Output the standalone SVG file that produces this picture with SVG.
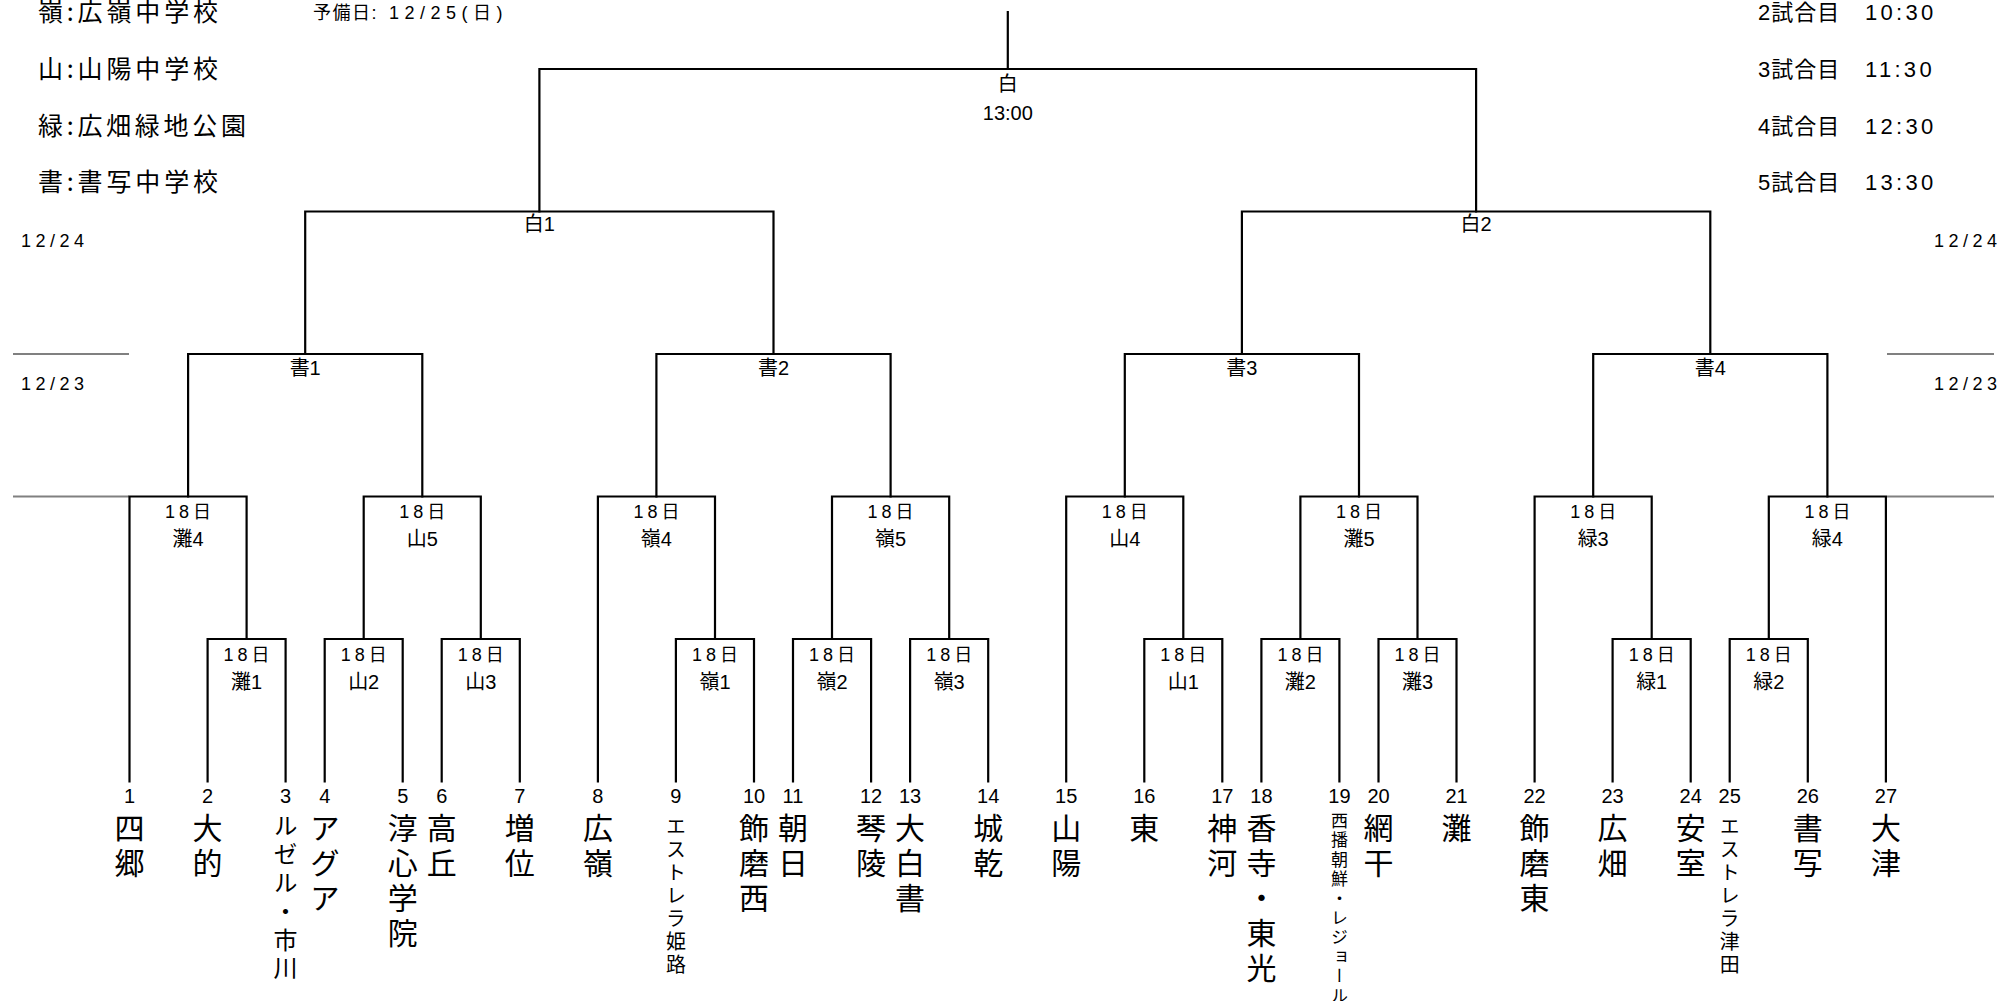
<svg xmlns="http://www.w3.org/2000/svg" width="2011" height="1001" viewBox="0 0 2011 1001">
<style>
.ln{stroke:#000;stroke-width:2.2;fill:none;stroke-linecap:square}
.gr{stroke:#808080;stroke-width:2.2;fill:none}
text{fill:#000}
.lg{font-family:"Noto Sans CJK JP",sans-serif;font-size:25px}
.sm{font-family:"Liberation Sans","Noto Sans CJK JP",sans-serif;font-size:18px}
.sc{font-family:"Liberation Sans","Noto Sans CJK JP",sans-serif;font-size:22px}
.ml{font-family:"Liberation Sans","Noto Sans CJK JP",sans-serif;font-size:20px;text-anchor:middle}
.dt{font-family:"Liberation Sans","Noto Sans CJK JP",sans-serif;font-size:18px;text-anchor:middle}
.num{font-family:"Liberation Sans",sans-serif;font-size:20px;text-anchor:middle}
.nm{font-family:"Noto Sans CJK JP",sans-serif;font-size:30px;writing-mode:vertical-rl;letter-spacing:5px}
.nm3{font-size:24px;letter-spacing:4.6px}
.nmS{font-size:20px;letter-spacing:3px}
.nmXS{font-size:17px;letter-spacing:2.4px}
</style>

<g id="legend">
<text class="lg" x="38" y="21" textLength="180" lengthAdjust="spacing">嶺:広嶺中学校</text>
<text class="lg" x="38" y="78" textLength="180" lengthAdjust="spacing">山:山陽中学校</text>
<text class="lg" x="38" y="135" textLength="208" lengthAdjust="spacing">緑:広畑緑地公園</text>
<text class="lg" x="38" y="191" textLength="180" lengthAdjust="spacing">書:書写中学校</text>
<text class="sm" font-size="19"><tspan x="313" y="19" letter-spacing="1.5">予備日:</tspan><tspan x="389" y="19" letter-spacing="5.5">12/25(日)</tspan></text>
<text class="sm" x="21" y="247" textLength="63" lengthAdjust="spacing">12/24</text>
<text class="sm" x="21" y="390" textLength="63" lengthAdjust="spacing">12/23</text>
<text class="sm" x="1934" y="247" textLength="63" lengthAdjust="spacing">12/24</text>
<text class="sm" x="1934" y="390" textLength="63" lengthAdjust="spacing">12/23</text>
</g>

<g id="schedule">
<text class="sc"><tspan x="1758" y="20" letter-spacing="1">2試合目</tspan><tspan x="1865" y="20" letter-spacing="3.3">10:30</tspan></text>
<text class="sc"><tspan x="1758" y="77" letter-spacing="1">3試合目</tspan><tspan x="1865" y="77" letter-spacing="3.3">11:30</tspan></text>
<text class="sc"><tspan x="1758" y="134" letter-spacing="1">4試合目</tspan><tspan x="1865" y="134" letter-spacing="3.3">12:30</tspan></text>
<text class="sc"><tspan x="1758" y="190" letter-spacing="1">5試合目</tspan><tspan x="1865" y="190" letter-spacing="3.3">13:30</tspan></text>
</g>

<g id="guides">
<line class="gr" x1="13" y1="354" x2="129" y2="354"/>
<line class="gr" x1="13" y1="496.5" x2="129" y2="496.5"/>
<line class="gr" x1="1887" y1="354" x2="1994" y2="354"/>
<line class="gr" x1="1887" y1="496.5" x2="1994" y2="496.5"/>
</g>

<g id="connectors">
<path class="ln" d="M1007.8 12 V69 M539.4 211.5 V69 H1476.1 V211.5"/>
<path class="ln" d="M305.2 354 V211.5 H773.5 V354"/>
<path class="ln" d="M1241.9 354 V211.5 H1710.3 V354"/>
<path class="ln" d="M188.1 496.5 V354 H422.3 V496.5"/>
<path class="ln" d="M656.4 496.5 V354 H890.6 V496.5"/>
<path class="ln" d="M1124.8 496.5 V354 H1359 V496.5"/>
<path class="ln" d="M1593.2 496.5 V354 H1827.4 V496.5"/>
<path class="ln" d="M129.5 781.5 V496.5 H246.6 V639"/>
<path class="ln" d="M363.7 639 V496.5 H480.8 V639"/>
<path class="ln" d="M597.9 781.5 V496.5 H715 V639"/>
<path class="ln" d="M832 639 V496.5 H949.2 V639"/>
<path class="ln" d="M1066.2 781.5 V496.5 H1183.3 V639"/>
<path class="ln" d="M1300.4 639 V496.5 H1417.5 V639"/>
<path class="ln" d="M1534.6 781.5 V496.5 H1651.7 V639"/>
<path class="ln" d="M1768.8 639 V496.5 H1885.9 V781.5"/>
<path class="ln" d="M207.6 781.5 V639 H285.6 V781.5"/>
<path class="ln" d="M324.7 781.5 V639 H402.7 V781.5"/>
<path class="ln" d="M441.7 781.5 V639 H519.8 V781.5"/>
<path class="ln" d="M675.9 781.5 V639 H754 V781.5"/>
<path class="ln" d="M793 781.5 V639 H871.1 V781.5"/>
<path class="ln" d="M910.1 781.5 V639 H988.2 V781.5"/>
<path class="ln" d="M1144.3 781.5 V639 H1222.3 V781.5"/>
<path class="ln" d="M1261.4 781.5 V639 H1339.4 V781.5"/>
<path class="ln" d="M1378.5 781.5 V639 H1456.5 V781.5"/>
<path class="ln" d="M1612.6 781.5 V639 H1690.7 V781.5"/>
<path class="ln" d="M1729.7 781.5 V639 H1807.8 V781.5"/>
</g>

<g id="matches">
<g id="m-final"><text class="ml" x="1007.8" y="91" font-size="19">白</text><text class="ml" x="1007.8" y="120" font-size="21">13:00</text></g>
<g id="m-haku1"><text class="ml" x="539.4" y="231">白1</text></g>
<g id="m-haku2"><text class="ml" x="1476.1" y="231">白2</text></g>
<g id="m-sho1"><text class="ml" x="305.2" y="375">書1</text></g>
<g id="m-sho2"><text class="ml" x="773.5" y="375">書2</text></g>
<g id="m-sho3"><text class="ml" x="1241.9" y="375">書3</text></g>
<g id="m-sho4"><text class="ml" x="1710.3" y="375">書4</text></g>
<g id="m-nada4"><text class="dt" x="188.1" y="518" textLength="46" lengthAdjust="spacing">18日</text><text class="ml" x="188.1" y="546">灘4</text></g>
<g id="m-yama5"><text class="dt" x="422.3" y="518" textLength="46" lengthAdjust="spacing">18日</text><text class="ml" x="422.3" y="546">山5</text></g>
<g id="m-mine4"><text class="dt" x="656.4" y="518" textLength="46" lengthAdjust="spacing">18日</text><text class="ml" x="656.4" y="546">嶺4</text></g>
<g id="m-mine5"><text class="dt" x="890.6" y="518" textLength="46" lengthAdjust="spacing">18日</text><text class="ml" x="890.6" y="546">嶺5</text></g>
<g id="m-yama4"><text class="dt" x="1124.8" y="518" textLength="46" lengthAdjust="spacing">18日</text><text class="ml" x="1124.8" y="546">山4</text></g>
<g id="m-nada5"><text class="dt" x="1359" y="518" textLength="46" lengthAdjust="spacing">18日</text><text class="ml" x="1359" y="546">灘5</text></g>
<g id="m-midori3"><text class="dt" x="1593.2" y="518" textLength="46" lengthAdjust="spacing">18日</text><text class="ml" x="1593.2" y="546">緑3</text></g>
<g id="m-midori4"><text class="dt" x="1827.4" y="518" textLength="46" lengthAdjust="spacing">18日</text><text class="ml" x="1827.4" y="546">緑4</text></g>
<g id="m-nada1"><text class="dt" x="246.6" y="661" textLength="46" lengthAdjust="spacing">18日</text><text class="ml" x="246.6" y="689">灘1</text></g>
<g id="m-yama2"><text class="dt" x="363.7" y="661" textLength="46" lengthAdjust="spacing">18日</text><text class="ml" x="363.7" y="689">山2</text></g>
<g id="m-yama3"><text class="dt" x="480.8" y="661" textLength="46" lengthAdjust="spacing">18日</text><text class="ml" x="480.8" y="689">山3</text></g>
<g id="m-mine1"><text class="dt" x="715" y="661" textLength="46" lengthAdjust="spacing">18日</text><text class="ml" x="715" y="689">嶺1</text></g>
<g id="m-mine2"><text class="dt" x="832" y="661" textLength="46" lengthAdjust="spacing">18日</text><text class="ml" x="832" y="689">嶺2</text></g>
<g id="m-mine3"><text class="dt" x="949.2" y="661" textLength="46" lengthAdjust="spacing">18日</text><text class="ml" x="949.2" y="689">嶺3</text></g>
<g id="m-yama1"><text class="dt" x="1183.3" y="661" textLength="46" lengthAdjust="spacing">18日</text><text class="ml" x="1183.3" y="689">山1</text></g>
<g id="m-nada2"><text class="dt" x="1300.4" y="661" textLength="46" lengthAdjust="spacing">18日</text><text class="ml" x="1300.4" y="689">灘2</text></g>
<g id="m-nada3"><text class="dt" x="1417.5" y="661" textLength="46" lengthAdjust="spacing">18日</text><text class="ml" x="1417.5" y="689">灘3</text></g>
<g id="m-midori1"><text class="dt" x="1651.7" y="661" textLength="46" lengthAdjust="spacing">18日</text><text class="ml" x="1651.7" y="689">緑1</text></g>
<g id="m-midori2"><text class="dt" x="1768.8" y="661" textLength="46" lengthAdjust="spacing">18日</text><text class="ml" x="1768.8" y="689">緑2</text></g>
</g>

<g id="teams">
<g id="t1"><text class="num" x="129.5" y="803">1</text><text class="nm" x="129.5" y="813">四郷</text></g>
<g id="t2"><text class="num" x="207.6" y="803">2</text><text class="nm" x="207.6" y="813">大的</text></g>
<g id="t3"><text class="num" x="285.6" y="803">3</text><text class="nm nm3" x="285.6" y="813">ルゼル・市川</text></g>
<g id="t4"><text class="num" x="324.7" y="803">4</text><text class="nm" x="324.7" y="813" letter-spacing="3.5">アグア</text></g>
<g id="t5"><text class="num" x="402.7" y="803">5</text><text class="nm" x="402.7" y="813">淳心学院</text></g>
<g id="t6"><text class="num" x="441.7" y="803">6</text><text class="nm" x="441.7" y="813">高丘</text></g>
<g id="t7"><text class="num" x="519.8" y="803">7</text><text class="nm" x="519.8" y="813">増位</text></g>
<g id="t8"><text class="num" x="597.9" y="803">8</text><text class="nm" x="597.9" y="813">広嶺</text></g>
<g id="t9"><text class="num" x="675.9" y="803">9</text><text class="nm nmS" x="675.9" y="816">エストレラ姫路</text></g>
<g id="t10"><text class="num" x="754" y="803">10</text><text class="nm" x="754" y="813">飾磨西</text></g>
<g id="t11"><text class="num" x="793" y="803">11</text><text class="nm" x="793" y="813">朝日</text></g>
<g id="t12"><text class="num" x="871.1" y="803">12</text><text class="nm" x="871.1" y="813">琴陵</text></g>
<g id="t13"><text class="num" x="910.1" y="803">13</text><text class="nm" x="910.1" y="813">大白書</text></g>
<g id="t14"><text class="num" x="988.2" y="803">14</text><text class="nm" x="988.2" y="813">城乾</text></g>
<g id="t15"><text class="num" x="1066.2" y="803">15</text><text class="nm" x="1066.2" y="813">山陽</text></g>
<g id="t16"><text class="num" x="1144.3" y="803">16</text><text class="nm" x="1144.3" y="813">東</text></g>
<g id="t17"><text class="num" x="1222.3" y="803">17</text><text class="nm" x="1222.3" y="813">神河</text></g>
<g id="t18"><text class="num" x="1261.4" y="803">18</text><text class="nm" x="1261.4" y="813" letter-spacing="3.75">香寺・東光</text></g>
<g id="t19"><text class="num" x="1339.4" y="803">19</text><text class="nm nmXS" x="1339.4" y="812">西播朝鮮・レジョール</text></g>
<g id="t20"><text class="num" x="1378.5" y="803">20</text><text class="nm" x="1378.5" y="813">網干</text></g>
<g id="t21"><text class="num" x="1456.5" y="803">21</text><text class="nm" x="1456.5" y="813">灘</text></g>
<g id="t22"><text class="num" x="1534.6" y="803">22</text><text class="nm" x="1534.6" y="813">飾磨東</text></g>
<g id="t23"><text class="num" x="1612.6" y="803">23</text><text class="nm" x="1612.6" y="813">広畑</text></g>
<g id="t24"><text class="num" x="1690.7" y="803">24</text><text class="nm" x="1690.7" y="813">安室</text></g>
<g id="t25"><text class="num" x="1729.7" y="803">25</text><text class="nm nmS" x="1729.7" y="816">エストレラ津田</text></g>
<g id="t26"><text class="num" x="1807.8" y="803">26</text><text class="nm" x="1807.8" y="813">書写</text></g>
<g id="t27"><text class="num" x="1885.9" y="803">27</text><text class="nm" x="1885.9" y="813">大津</text></g>
</g>
</svg>
